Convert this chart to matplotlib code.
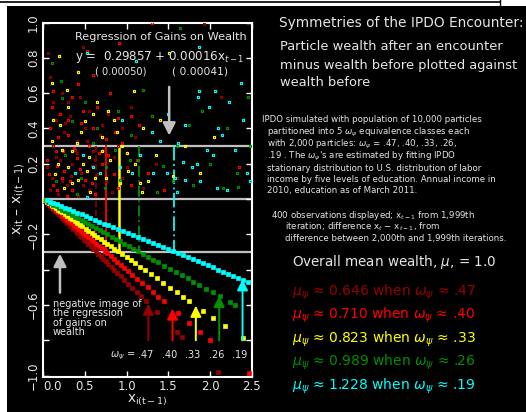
import matplotlib
matplotlib.use('Agg')
import matplotlib.pyplot as plt
from matplotlib.patches import Rectangle, FancyArrowPatch
from matplotlib.lines import Line2D

plt.rcParams['font.family'] = ['DejaVu Sans']
plt.rcParams['mathtext.fontset'] = 'dejavusans'

# ---------------- data ----------------
omegas = [0.47, 0.40, 0.33, 0.26, 0.19]
omega_labels = ['.47', '.40', '.33', '.26', '.19']
class_mu = ['0.646', '0.710', '0.823', '0.989', '1.228']
class_colors = ['#960000', '#ff0000', '#ffff00', '#009000', '#00ffff']
reg_intercept = 0.29857
reg_slope = 0.00016
reg_se = ['0.00050', '0.00041']
x_ticks = [0.0, 0.5, 1.0, 1.5, 2.0, 2.5]
y_ticks = [1.0, 0.8, 0.6, 0.4, 0.2, 0.0, -0.2, -0.4, -0.6, -0.8, -1.0]
y_tick_labels = ['1.0', '0.8', '0.6', '0.4', '0.2', '', '\u22120.2', '', '\u22120.6', '', '\u22121.0']

# gains (x_{t-1}, x_t - x_{t-1}) per class
gains_darkred = [(1.93, 0.99), (0.48, 0.86), (0.06, 0.83), (0.08, 0.69), (2.13, 0.58), (0.22, 0.60),
                 (0.30, 0.55), (0.55, 0.50), (0.15, 0.45), (0.50, 0.40), (0.70, 0.42), (0.95, 0.40),
                 (0.25, 0.38), (0.40, 0.33), (1.10, 0.35), (0.12, 0.30), (0.38, 0.28), (0.90, 0.30),
                 (0.60, 0.27), (0.85, 0.24), (0.20, 0.22), (0.35, 0.20), (1.00, 0.18), (1.35, 0.20),
                 (0.45, 0.15), (0.65, 0.14), (0.05, 0.18), (0.10, 0.12), (0.75, 0.10), (1.60, 0.12),
                 (0.28, 0.08), (0.55, 0.05), (0.18, 0.03), (1.20, 0.06), (0.82, 0.04), (0.42, 0.02),
                 (0.68, 0.36), (1.05, 0.52), (0.32, 0.47), (0.58, 0.19), (0.08, 0.05), (0.22, 0.10),
                 (0.33, 0.13), (0.48, 0.08), (0.62, 0.22), (0.72, 0.28), (0.15, 0.24), (0.40, 0.26),
                 (0.95, 0.12), (0.52, 0.33), (0.26, 0.43), (0.78, 0.48), (0.12, 0.55), (0.44, 0.58)]
gains_red = [(1.30, 1.00), (0.91, 0.885), (0.53, 0.84), (0.12, 0.61), (0.42, 0.65), (0.60, 0.70),
             (0.80, 0.60), (0.35, 0.58), (0.65, 0.52), (0.20, 0.48), (0.90, 0.46), (0.45, 0.43),
             (0.08, 0.40), (1.15, 0.42), (0.18, 0.35), (0.30, 0.36), (0.75, 0.34), (0.95, 0.32),
             (0.55, 0.30), (0.15, 0.27), (1.00, 0.26), (0.40, 0.23), (0.05, 0.22), (0.70, 0.20),
             (0.25, 0.16), (0.85, 0.14), (1.25, 0.15), (0.50, 0.11), (0.12, 0.08), (1.05, 0.08),
             (0.35, 0.05), (0.62, 0.03), (0.28, 0.02), (1.45, 0.05), (2.35, 0.18), (0.78, 0.25),
             (0.22, 0.12), (1.12, 0.22), (0.48, 0.50), (0.10, 0.52), (0.07, 0.14), (0.17, 0.19),
             (0.32, 0.10), (0.44, 0.17), (0.58, 0.09), (0.67, 0.26), (0.90, 0.06), (0.37, 0.29),
             (0.24, 0.27), (0.60, 0.40), (0.86, 0.38), (0.30, 0.45), (1.05, 0.47), (0.16, 0.05)]
gains_yellow = [(1.51, 0.83), (0.19, 0.81), (0.42, 0.72), (0.11, 0.66), (1.09, 0.61), (0.30, 0.52),
                (0.60, 0.48), (0.85, 0.45), (1.40, 0.45), (0.20, 0.42), (1.20, 0.40), (0.45, 0.38),
                (0.70, 0.35), (2.05, 0.35), (0.10, 0.33), (0.95, 0.30), (1.70, 0.30), (0.35, 0.27),
                (1.35, 0.25), (0.55, 0.24), (0.80, 0.22), (0.18, 0.20), (1.10, 0.20), (1.02, 0.16),
                (0.52, 0.16), (1.88, 0.15), (1.56, 0.13), (0.75, 0.12), (0.92, 0.09), (1.16, 0.09),
                (0.34, 0.09), (0.25, 0.06), (1.18, 0.04), (0.56, 0.04), (0.65, 0.55), (0.28, 0.62),
                (0.88, 0.38), (0.48, 0.20), (0.14, 0.14), (0.30, 0.18), (0.42, 0.11), (0.62, 0.12),
                (0.70, 0.27), (0.40, 0.32), (0.22, 0.28), (1.00, 0.26), (0.12, 0.45), (0.50, 0.44),
                (0.78, 0.50), (1.25, 0.10)]
gains_green = [(1.64, 0.97), (0.10, 0.77), (0.21, 0.67), (0.22, 0.57), (2.46, 0.58), (0.50, 0.55),
               (1.90, 0.50), (0.90, 0.50), (1.30, 0.47), (0.35, 0.44), (1.75, 0.42), (0.65, 0.40),
               (2.20, 0.40), (1.05, 0.36), (0.60, 0.32), (1.60, 0.30), (2.48, 0.30), (0.86, 0.28),
               (0.26, 0.25), (1.14, 0.22), (1.04, 0.22), (2.00, 0.20), (1.44, 0.19), (2.32, 0.15),
               (0.45, 0.12), (0.92, 0.11), (0.15, 0.10), (1.79, 0.08), (2.33, 0.07), (0.74, 0.06),
               (2.15, 0.06), (1.36, 0.04), (0.40, 0.03), (1.20, 0.62), (0.75, 0.18), (1.55, 0.10)]
gains_cyan = [(1.87, 0.86), (0.53, 0.83), (1.11, 0.78), (2.37, 0.66), (1.87, 0.61), (2.06, 0.61),
              (1.86, 0.58), (2.23, 0.55), (1.99, 0.52), (1.50, 0.48), (2.40, 0.45), (0.95, 0.45),
              (1.70, 0.42), (2.10, 0.40), (1.30, 0.38), (0.48, 0.25), (1.62, 0.32), (2.14, 0.36),
              (2.04, 0.25), (2.48, 0.10), (2.44, 0.15), (2.20, 0.05), (2.08, 0.06), (1.88, 0.10),
              (1.70, 0.11), (1.58, 0.12), (1.60, 0.04), (1.78, 0.18), (1.84, 0.20), (1.96, 0.28),
              (1.68, 0.21), (1.48, 0.15), (1.32, 0.15), (1.16, 0.25), (1.06, 0.15), (0.92, 0.18),
              (0.68, 0.15), (0.60, 0.18), (0.38, 0.15), (0.52, 0.01), (2.30, 0.28), (1.40, 0.33)]

# losses: wealth before the encounter of particles that lost (loss = omega * x)
losses_darkred = [0.02, 0.04, 0.06, 0.08, 0.10, 0.12, 0.14, 0.16, 0.18, 0.21, 0.23, 0.25, 0.27, 0.29,
                  0.32, 0.34, 0.36, 0.39, 0.41, 0.44, 0.46, 0.49, 0.51, 0.54, 0.57, 0.60, 0.63, 0.66,
                  0.69, 0.72, 0.75, 0.78, 0.82, 0.85, 0.89, 0.93, 0.97, 1.02, 1.07, 1.12, 1.17, 1.23,
                  1.36, 1.60, 1.66, 2.09]
losses_red = [0.02, 0.04, 0.06, 0.08, 0.10, 0.12, 0.15, 0.17, 0.19, 0.22, 0.24, 0.27, 0.29, 0.32,
              0.34, 0.37, 0.40, 0.42, 0.45, 0.48, 0.51, 0.54, 0.57, 0.60, 0.63, 0.67, 0.70, 0.74,
              0.77, 0.81, 0.85, 0.89, 0.93, 0.97, 1.02, 1.07, 1.13, 1.19, 1.25, 1.31, 1.38, 1.45,
              1.62, 1.75, 1.88, 2.00, 2.47]
losses_yellow = [0.02, 0.05, 0.07, 0.10, 0.12, 0.15, 0.18, 0.20, 0.23, 0.26, 0.29, 0.32, 0.35, 0.38,
                 0.41, 0.44, 0.47, 0.51, 0.54, 0.58, 0.61, 0.65, 0.69, 0.73, 0.77, 0.81, 0.85, 0.90,
                 0.95, 1.00, 1.05, 1.10, 1.16, 1.22, 1.29, 1.36, 1.44, 1.52, 1.60, 1.68, 1.75, 1.92,
                 2.04, 2.18, 2.39]
losses_green = [0.03, 0.06, 0.09, 0.12, 0.16, 0.19, 0.23, 0.26, 0.30, 0.34, 0.38, 0.42, 0.46, 0.50,
                0.54, 0.59, 0.63, 0.68, 0.72, 0.77, 0.82, 0.87, 0.92, 0.97, 1.03, 1.08, 1.14, 1.20,
                1.26, 1.32, 1.38, 1.45, 1.52, 1.59, 1.66, 1.73, 1.80, 1.87, 1.95, 2.03, 2.12, 2.24,
                2.30]
losses_cyan = [0.04, 0.08, 0.12, 0.16, 0.21, 0.26, 0.31, 0.36, 0.41, 0.46, 0.51, 0.56, 0.62, 0.67,
               0.73, 0.78, 0.84, 0.90, 0.96, 1.02, 1.08, 1.14, 1.20, 1.26, 1.32, 1.38, 1.44, 1.50,
               1.56, 1.62, 1.68, 1.74, 1.80, 1.86, 1.92, 1.98, 2.04, 2.10, 2.16, 2.22, 2.28, 2.34,
               2.40, 2.46]

arrow_x = [1.26, 1.55, 1.83, 2.11, 2.39]
vline_styles = [(0, (4, 2)), '-', '-', (0, (6, 2, 1, 2)), (0, (8, 2, 1, 2))]
vline_widths = [1.1, 1.3, 1.8, 1.3, 1.3]

gains_all = [gains_darkred, gains_red, gains_yellow, gains_green, gains_cyan]
losses_all = [losses_darkred, losses_red, losses_yellow, losses_green, losses_cyan]

# ---------------- figure ----------------
W, H = 526, 412
FG = '#e6e6e6'
GRAY = '#c0c0c0'
fig = plt.figure(figsize=(W / 100, H / 100), dpi=100, facecolor='white')


def fx(px):
    return px / W


def fy(py):
    return 1 - py / H


fig.patches.append(Rectangle((fx(7), 0), 1 - fx(7), fy(6), transform=fig.transFigure,
                             facecolor='black', edgecolor='none', zorder=-10))
fig.lines.append(Line2D([0, fx(500)], [fy(1.5), fy(1.5)], transform=fig.transFigure,
                        color='black', lw=1.2))
fig.lines.append(Line2D([fx(500), fx(500)], [fy(0), fy(5)], transform=fig.transFigure,
                        color='black', lw=1.0))

L, R, T, B = 43.3, 251.7, 22.5, 376.5
ax = fig.add_axes([fx(L), fy(B), (R - L) / W, (B - T) / H])
ax.set_facecolor('black')
ax.set_xlim(0, 2.5)
ax.set_ylim(-1.005, 1.0)
for s in ax.spines.values():
    s.set_color('white')
    s.set_linewidth(1.5)
ax.set_xticks(x_ticks)
ax.set_xticklabels(['%.1f' % v for v in x_ticks])
ax.set_yticks(y_ticks)
ax.set_yticklabels(y_tick_labels, rotation=90, va='center')
ax.tick_params(direction='in', top=True, right=True, length=4, width=1, color='white',
               labelcolor=FG, labelsize=8.5)
ax.tick_params(axis='x', pad=2.5)
ax.tick_params(axis='y', pad=2.5)
ax.get_xticklabels()[0].set_ha('left')

# reference lines
for yv in [reg_intercept, 0.0, -reg_intercept]:
    ax.axhline(yv, color=GRAY, lw=1.6, zorder=1)

# scatter points
for w, col, g, lo in zip(omegas, class_colors, gains_all, losses_all):
    gx = [p[0] for p in g]
    gy = [p[1] for p in g]
    ax.plot(gx, gy, ls='none', marker='s', ms=1.8, mfc='none', mec=col, mew=0.85, zorder=3)
    ly = [-w * v for v in lo]
    ax.plot(lo, ly, ls='none', marker='s', ms=2.2, mfc=col, mec=col, mew=0.5, zorder=3)

# vertical lines at the wealth where a loss equals the regression intercept
for w, col, ls, lw in zip(omegas, class_colors, vline_styles, vline_widths):
    xv = reg_intercept / w
    ax.plot([xv, xv], [reg_intercept, -reg_intercept], color=col, lw=lw, ls=ls, zorder=2)

# colored arrows
for w, col, xa, lab in zip(omegas, class_colors, arrow_x, omega_labels):
    arr = FancyArrowPatch((xa, -0.8), (xa, -w * xa), arrowstyle='-|>,head_length=0.65,head_width=0.32',
                          mutation_scale=10, color=col, lw=1.4, shrinkA=0, shrinkB=0, zorder=4)
    ax.add_patch(arr)
    ax.text(xa - 0.035, -0.885, lab, color=FG, fontsize=7, ha='center', va='center')
ax.text(0.80, -0.885, r'$\omega_\psi$ =', color=FG, fontsize=7, ha='left', va='center')

# white arrows
ax.add_patch(FancyArrowPatch((1.51, 0.635), (1.51, 0.36), arrowstyle='-|>,head_length=0.75,head_width=0.38',
                             mutation_scale=10, color=GRAY, lw=1.8, shrinkA=0, shrinkB=0, zorder=5))
ax.add_patch(FancyArrowPatch((0.20, -0.53), (0.20, -0.31), arrowstyle='-|>,head_length=0.75,head_width=0.38',
                             mutation_scale=10, color=GRAY, lw=1.8, shrinkA=0, shrinkB=0, zorder=5))

# ---------------- texts ----------------
fits = []


def ftext(px, py, s, width=None, size=9, color=FG, ha='left', **kw):
    t = fig.text(fx(px), fy(py), s, color=color, fontsize=size, ha=ha, va='center', **kw)
    if width is not None:
        fits.append((t, width))
    return t


# axis labels
ftext(147, 400, r'$\mathregular{x_{i(t-1)}}$', width=41, ha='center')
ftext(19, 199, r'$\mathregular{x_{it}\ \endash\ x_{i(t-1)}}$', ha='center', rotation=90, size=10)

# regression annotation
ftext(161, 37, 'Regression of Gains on Wealth', width=172, ha='center')
ftext(75, 57, r'y =  %.5f + %.5fx$_{t-1}$' % (reg_intercept, reg_slope), width=170)
ftext(95, 72, '( %s)' % reg_se[0], width=52)
ftext(172, 72, '( %s)' % reg_se[1], width=56)

# negative image note
neg_lines = ['negative image of', 'the regression', 'of gains on', 'wealth']
neg_t = [ftext(53, 304 + 9.3 * i, s, size=7) for i, s in enumerate(neg_lines)]
fits.append((neg_t[0], 89, neg_t))

# right panel
ftext(279, 23, 'Symmetries of the IPDO Encounter:', width=244)
p1 = ftext(280, 47, 'Particle wealth after an encounter')
p2 = ftext(280, 65, 'minus wealth before plotted against')
p3 = ftext(280, 83, 'wealth before')
fits.append((p2, 236, [p1, p2, p3]))

small = [
    (262, 120, 'IPDO simulated with population of 10,000 particles'),
    (267, 132, r'partitioned into 5 $\omega_\psi$ equivalence classes each'),
    (267, 144, r'with 2,000 particles: $\omega_\psi$ = .47, .40, .33, .26,'),
    (267, 156, r".19 . The $\omega_\psi$'s are estimated by fitting IPDO"),
    (267, 168, 'stationary distribution to U.S. distribution of labor'),
    (267, 179.5, 'income by five levels of education. Annual income in'),
    (267, 191, '2010, education as of March 2011.'),
    (271, 215, r'400 observations displayed; x$_{t-1}$ from 1,999th'),
    (285, 227, r'iteration; difference x$_t$ $-$ x$_{t-1}$, from'),
    (285, 238.5, 'difference between 2,000th and 1,999th iterations.'),
]
small_t = [ftext(px, py, s, size=6) for px, py, s in small]
fits.append((small_t[0], 222, small_t))

ov = ftext(292, 262, r'Overall mean wealth, $\mu$, = 1.0')
mu_t = []
for i, (col, m, lab) in enumerate(zip(class_colors, class_mu, omega_labels)):
    s = r'$\mu_\psi$' + ' \u2248 ' + m + ' when ' + r'$\omega_\psi$' + ' \u2248 ' + lab
    mu_t.append(ftext(292, 292 + 23.5 * i, s, color=col))
fits.append((ov, 205, [ov]))
fits.append((mu_t[0], 185, mu_t))

fig.canvas.draw()
r = fig.canvas.get_renderer()
for item in fits:
    if len(item) == 2:
        t, wd = item
        group = [t]
    else:
        t, wd, group = item
    bb = t.get_window_extent(renderer=r)
    scale = wd / bb.width
    for g in group:
        g.set_fontsize(g.get_fontsize() * scale)

fig.savefig('out.png', dpi=100, facecolor='white')
